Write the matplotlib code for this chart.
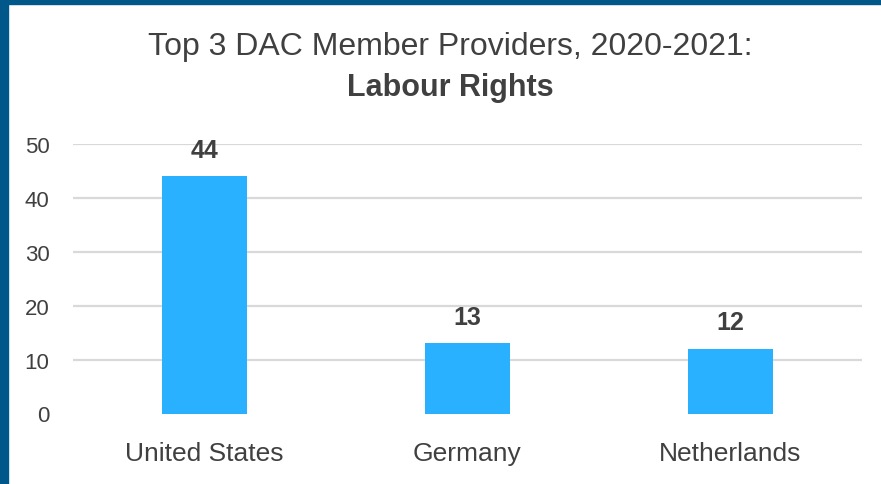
import matplotlib
matplotlib.use("Agg")
import matplotlib.pyplot as plt
from matplotlib.patches import Rectangle

categories = ["United States", "Germany", "Netherlands"]
values = [44, 13, 12]
yticks = [0, 10, 20, 30, 40, 50]
title_line1 = "Top 3 DAC Member Providers, 2020-2021:"
title_line2 = "Labour Rights"

TXT = "#404040"
BAR = "#29B1FF"
BORDER = "#00578A"

plt.rcParams["font.family"] = ["Liberation Sans", "DejaVu Sans"]

W, H = 881, 485
fig = plt.figure(figsize=(W / 100, H / 100), dpi=100)
fig.patch.set_facecolor("white")

# dark blue frame on top and left
fig.patches.append(Rectangle((0, 1 - 5 / H), 1, 5 / H, transform=fig.transFigure,
                             color=BORDER, zorder=10))
fig.patches.append(Rectangle((0, 0), 8 / W, 1, transform=fig.transFigure,
                             color=BORDER, zorder=10))

ax = fig.add_axes([73 / W, 1 - 414.5 / H, (862 - 73) / W, (414.5 - 145) / H])
x = [i + 0.5 for i in range(len(categories))]
ax.bar(x, values, width=0.32, color=BAR, zorder=3)
ax.set_xlim(0, len(categories))
ax.set_ylim(0, 50)
ax.set_yticks(yticks)
ax.set_xticks(x)
ax.set_xticklabels(categories)
for y in yticks[1:]:
    ax.axhline(y, color="#D9D9D9", lw=1.6, zorder=1)
for s in ax.spines.values():
    s.set_visible(False)
ax.tick_params(axis="both", length=0, colors=TXT)
ax.tick_params(axis="y", labelsize=16, pad=17)
ax.tick_params(axis="x", labelsize=19, pad=20)

for xi, v in zip(x, values):
    ax.annotate(str(v), (xi, v), xytext=(0, 14), textcoords="offset points",
                ha="center", va="baseline", fontsize=18, fontweight="bold", color=TXT)

fig.text(450 / W, 1 - 47 / H, title_line1, ha="center", va="center", fontsize=23, color=TXT)
fig.text(450 / W, 1 - 88 / H, title_line2, ha="center", va="center", fontsize=22,
         fontweight="bold", color=TXT)

fig.savefig("out.png", dpi=100)
